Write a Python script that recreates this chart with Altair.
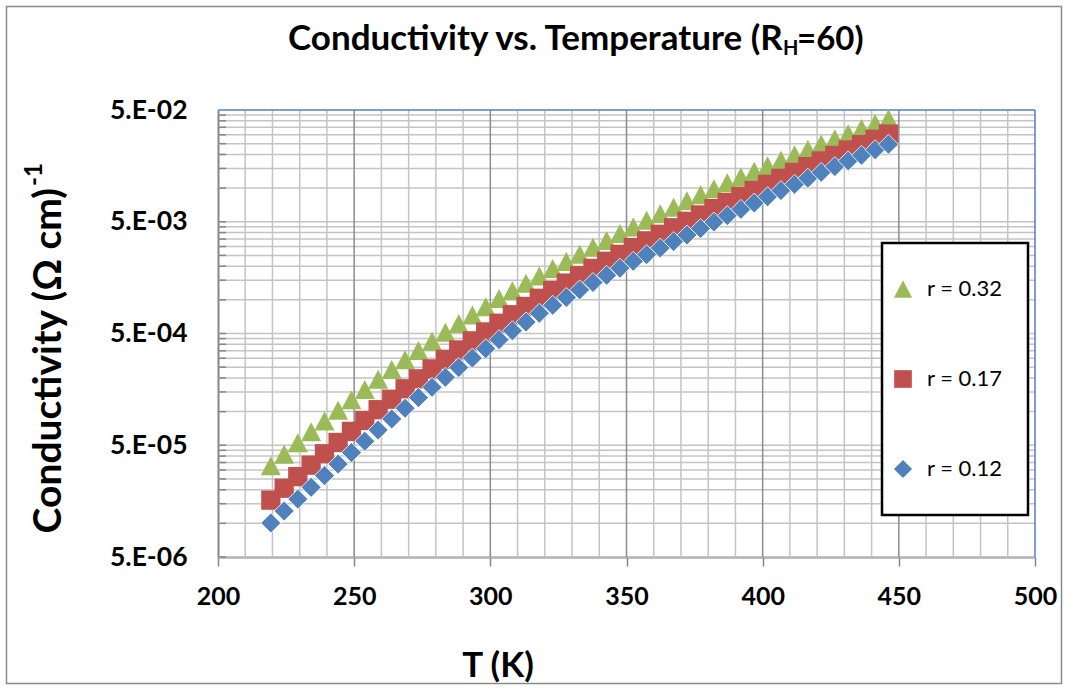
import altair as alt
import pandas as pd

# ---------------- data ----------------
T_K = [219.4, 224.3, 229.3, 234.2, 239.1, 244.1, 249.0, 253.9, 258.8, 263.8,
       268.7, 273.6, 278.6, 283.5, 288.4, 293.4, 298.3, 303.2, 308.1, 313.1,
       318.0, 322.9, 327.9, 332.8, 337.7, 342.7, 347.6, 352.5, 357.4, 362.4,
       367.3, 372.2, 377.2, 382.1, 387.0, 392.0, 396.9, 401.8, 406.7, 411.7,
       416.6, 421.5, 426.5, 431.4, 436.3, 441.3, 446.2]

sigma_r032 = [3.278e-5, 4.162e-5, 5.253e-5, 6.600e-5, 8.262e-5, 1.030e-4, 1.278e-4, 1.580e-4,
              1.945e-4, 2.386e-4, 2.907e-4, 3.527e-4, 4.264e-4, 5.131e-4, 6.150e-4, 7.328e-4,
              8.694e-4, 1.027e-3, 1.206e-3, 1.410e-3, 1.639e-3, 1.905e-3, 2.209e-3, 2.557e-3,
              2.953e-3, 3.404e-3, 3.915e-3, 4.494e-3, 5.150e-3, 5.899e-3, 6.744e-3, 7.693e-3,
              8.742e-3, 9.890e-3, 1.117e-2, 1.258e-2, 1.415e-2, 1.588e-2, 1.779e-2, 1.992e-2,
              2.226e-2, 2.482e-2, 2.763e-2, 3.069e-2, 3.408e-2, 3.778e-2, 4.180e-2]

sigma_r017 = [1.614e-5, 2.063e-5, 2.619e-5, 3.318e-5, 4.197e-5, 5.296e-5, 6.656e-5, 8.329e-5,
              1.040e-4, 1.291e-4, 1.600e-4, 1.965e-4, 2.411e-4, 2.937e-4, 3.565e-4, 4.298e-4,
              5.163e-4, 6.176e-4, 7.358e-4, 8.728e-4, 1.033e-3, 1.211e-3, 1.413e-3, 1.645e-3,
              1.912e-3, 2.214e-3, 2.552e-3, 2.941e-3, 3.370e-3, 3.859e-3, 4.413e-3, 5.045e-3,
              5.754e-3, 6.553e-3, 7.445e-3, 8.441e-3, 9.550e-3, 1.081e-2, 1.223e-2, 1.381e-2,
              1.556e-2, 1.750e-2, 1.959e-2, 2.194e-2, 2.452e-2, 2.735e-2, 3.044e-2]

sigma_r012 = [1.007e-5, 1.290e-5, 1.648e-5, 2.101e-5, 2.674e-5, 3.395e-5, 4.301e-5, 5.439e-5,
              6.850e-5, 8.594e-5, 1.073e-4, 1.335e-4, 1.650e-4, 2.028e-4, 2.480e-4, 3.016e-4,
              3.653e-4, 4.406e-4, 5.292e-4, 6.343e-4, 7.590e-4, 8.949e-4, 1.051e-3, 1.229e-3,
              1.431e-3, 1.659e-3, 1.920e-3, 2.214e-3, 2.541e-3, 2.911e-3, 3.321e-3, 3.805e-3,
              4.349e-3, 4.973e-3, 5.673e-3, 6.458e-3, 7.355e-3, 8.372e-3, 9.511e-3, 1.081e-2,
              1.225e-2, 1.384e-2, 1.559e-2, 1.753e-2, 1.967e-2, 2.203e-2, 2.467e-2]

series_labels = ["r = 0.32", "r = 0.17", "r = 0.12"]
series_colors = ["#9BBB59", "#C0504D", "#4F81BD"]

x_ticks = [200, 250, 300, 350, 400, 450, 500]
x_major_grid = [250, 300, 350, 400, 450]
x_minor_grid = [210, 220, 230, 240, 260, 270, 280, 290, 310, 320, 330, 340,
                360, 370, 380, 390, 410, 420, 430, 440, 460, 470, 480, 490]
y_ticks = [5e-6, 5e-5, 5e-4, 5e-3, 5e-2]
y_tick_labels = ["5.E-06", "5.E-05", "5.E-04", "5.E-03", "5.E-02"]
y_minor_mult = [1, 2, 3, 4, 5, 6, 7, 8, 9]
y_grid = [b * m for b in y_ticks[:-1] for m in y_minor_mult]

title_parts = ["Conductivity vs. Temperature (R", "H", "=60)"]
ytitle_parts = ["Conductivity (\u03a9 cm)", "-1"]
xtitle = "T (K)"

# ---------------- styling ----------------
FONT = "Lato"
PW, PH = 817, 447
GRID_MINOR = "#C4C4C4"
GRID_MAJOR = "#8C8C8C"
AXIS_GREY = "#868686"
BLUE_EDGE = "#4F81BD"

n = len(T_K)
assert len(sigma_r032) == n and len(sigma_r017) == n and len(sigma_r012) == n

df = pd.DataFrame({
    "T": T_K * 3,
    "sigma": sigma_r032 + sigma_r017 + sigma_r012,
    "series": [series_labels[0]] * n + [series_labels[1]] * n + [series_labels[2]] * n,
})

xscale = alt.Scale(domain=[200, 500], nice=False, zero=False)
yscale = alt.Scale(type="log", domain=[5e-6, 5e-2], nice=False)

label_expr = ""
for v, lab in zip(y_ticks[:-1], y_tick_labels[:-1]):
    label_expr += f"datum.value < {v * 1.5} ? '{lab}' : "
label_expr += f"'{y_tick_labels[-1]}'"

xaxis = alt.Axis(values=x_ticks, title=None, grid=False, domainColor=AXIS_GREY, domainWidth=2,
                 tickColor=AXIS_GREY, tickWidth=1.5, tickSize=9, labelFont=FONT, labelFontSize=25,
                 labelFontWeight="bold", labelColor="black", labelPadding=18, labelFlush=False,
                 labelOverlap=False)
yaxis = alt.Axis(values=y_ticks, title=None, grid=False, domainColor=AXIS_GREY, domainWidth=2,
                 ticks=False, labelExpr=label_expr, labelFont=FONT, labelFontSize=26.5,
                 labelFontWeight="bold", labelColor="black", labelPadding=31, labelFlush=False,
                 labelOverlap=False)

X = alt.X("T:Q", scale=xscale, axis=xaxis)
Y = alt.Y("sigma:Q", scale=yscale, axis=yaxis)

layers = []

# horizontal (log) grid
layers.append(alt.Chart(pd.DataFrame({"gy": y_grid})).mark_rule(color=GRID_MINOR, strokeWidth=1.5).encode(
    y=alt.Y("gy:Q", scale=yscale, axis=yaxis), x=alt.value(0), x2=alt.value(PW)))
# minor vertical grid
layers.append(alt.Chart(pd.DataFrame({"gx": x_minor_grid})).mark_rule(color=GRID_MINOR, strokeWidth=1.5).encode(
    x=alt.X("gx:Q", scale=xscale, axis=xaxis), y=alt.value(0), y2=alt.value(PH)))
# major vertical grid
layers.append(alt.Chart(pd.DataFrame({"gx": x_major_grid})).mark_rule(color=GRID_MAJOR, strokeWidth=1.5).encode(
    x=alt.X("gx:Q", scale=xscale, axis=xaxis), y=alt.value(0), y2=alt.value(PH)))
# inside minor ticks on y axis
layers.append(alt.Chart(pd.DataFrame({"gy": y_grid})).mark_rule(color=AXIS_GREY, strokeWidth=1.5).encode(
    y=alt.Y("gy:Q", scale=yscale, axis=yaxis), x=alt.value(0), x2=alt.value(8)))

# plot-area top / right edges
edge = pd.DataFrame({"e": [0]})
layers.append(alt.Chart(edge).mark_rule(color=BLUE_EDGE, strokeWidth=1.5).encode(
    x=alt.value(0), x2=alt.value(PW), y=alt.value(0)))
layers.append(alt.Chart(edge).mark_rule(color=BLUE_EDGE, strokeWidth=1.5).encode(
    x=alt.value(PW), y=alt.value(0), y2=alt.value(PH)))

TRI = "M0,-0.95L1,0.95L-1,0.95Z"
shapes = [TRI, "square", "diamond"]
sizes = [400, 372, 400]
strokes = [None, None, "white"]

base = alt.Chart(df)
for lab, col, shp, sz, stc in zip(series_labels, series_colors, shapes, sizes, strokes):
    kw = dict(shape=shp, filled=True, size=sz, color=col, opacity=1)
    if stc:
        kw.update(stroke=stc, strokeWidth=0.8)
    layers.append(base.transform_filter(alt.datum.series == lab).mark_point(**kw).encode(x=X, y=Y))

# legend box
layers.append(alt.Chart(edge).mark_rect(fill="white", stroke="black", strokeWidth=2.5).encode(
    x=alt.value(664), x2=alt.value(810), y=alt.value(133), y2=alt.value(405)))
leg_y = [179, 269, 359]
leg_sizes = [330, 312, 330]
for lab, col, shp, sz, ly in zip(series_labels, series_colors, shapes, leg_sizes, leg_y):
    layers.append(alt.Chart(edge).mark_point(shape=shp, filled=True, size=sz, color=col, opacity=1).encode(
        x=alt.value(685), y=alt.value(ly)))
    layers.append(alt.Chart(pd.DataFrame({"t": [lab]})).mark_text(
        align="left", baseline="middle", font=FONT, fontSize=22, color="black").encode(
        text="t:N", x=alt.value(709), y=alt.value(ly)))

# chart title (with subscript H)
layers.append(alt.Chart(pd.DataFrame({"t": [title_parts[0]]})).mark_text(
    align="left", baseline="alphabetic", font=FONT, fontSize=35, fontWeight="bold", color="black").encode(
    text="t:N", x=alt.value(70), y=alt.value(-60)))
layers.append(alt.Chart(pd.DataFrame({"t": [title_parts[1]]})).mark_text(
    align="left", baseline="alphabetic", font=FONT, fontSize=20, fontWeight="bold", color="black").encode(
    text="t:N", x=alt.value(565), y=alt.value(-55)))
layers.append(alt.Chart(pd.DataFrame({"t": [title_parts[2]]})).mark_text(
    align="left", baseline="alphabetic", font=FONT, fontSize=33, fontWeight="bold", color="black").encode(
    text="t:N", x=alt.value(579), y=alt.value(-60)))

# y title (with superscript -1)
layers.append(alt.Chart(pd.DataFrame({"t": [ytitle_parts[0]]})).mark_text(
    align="right", baseline="alphabetic", angle=270, font=FONT, fontSize=39, fontWeight="bold", color="black").encode(
    text="t:N", x=alt.value(-157), y=alt.value(78)))
layers.append(alt.Chart(pd.DataFrame({"t": [ytitle_parts[1]]})).mark_text(
    align="left", baseline="alphabetic", angle=270, font=FONT, fontSize=24, fontWeight="bold", color="black").encode(
    text="t:N", x=alt.value(-176), y=alt.value(76)))

# x title
layers.append(alt.Chart(pd.DataFrame({"t": [xtitle]})).mark_text(
    align="center", baseline="alphabetic", font=FONT, fontSize=35, fontWeight="bold", color="black").encode(
    text="t:N", x=alt.value(280), y=alt.value(567)))

# outer chart border
layers.append(alt.Chart(edge).mark_rect(fillOpacity=0, stroke="#8A8A8A", strokeWidth=1.5).encode(
    x=alt.value(-211.5), x2=alt.value(843.5), y=alt.value(-103.5), y2=alt.value(573.5)))

chart = alt.layer(*layers).properties(
    width=PW, height=PH,
    padding={"left": 218, "top": 110, "right": 33, "bottom": 133},
    autosize=alt.AutoSizeParams(type="none"),
    background="white",
).configure_view(stroke=None)

chart.save("out.html", embed_options={"renderer": "svg", "actions": False})
